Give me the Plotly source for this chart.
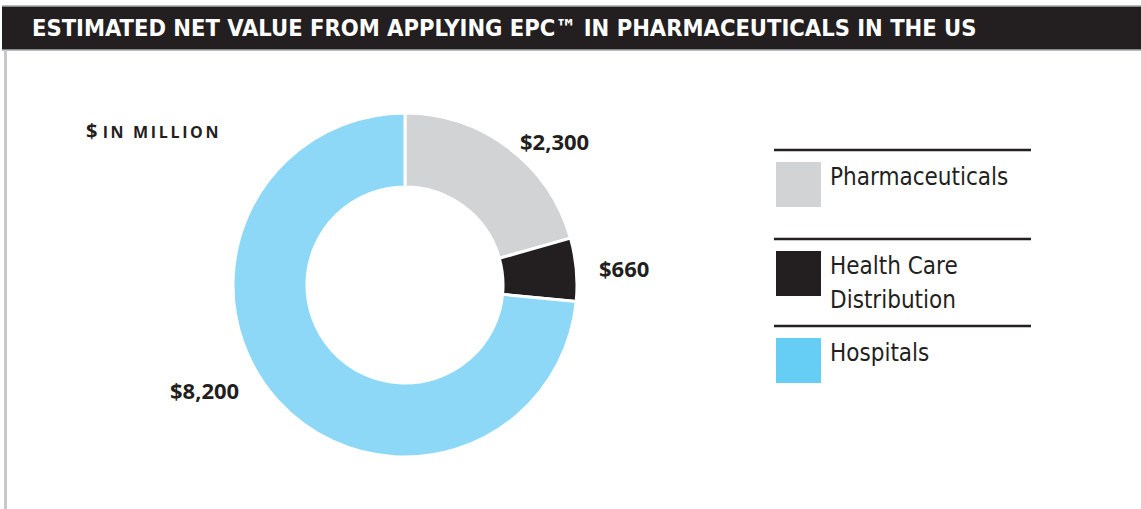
import plotly.graph_objects as go

categories = ["Pharmaceuticals", "Health Care Distribution", "Hospitals"]
values = [2300, 660, 8200]
value_labels = ["$2,300", "$660", "$8,200"]
legend_lines = [["Pharmaceuticals"], ["Health Care", "Distribution"], ["Hospitals"]]
pie_colors = ["#d1d3d4", "#231f20", "#8dd7f7"]
legend_colors = ["#d1d3d4", "#231f20", "#66cef5"]
title = "ESTIMATED NET VALUE FROM APPLYING EPC\u2122 IN PHARMACEUTICALS IN THE US"
unit_small = "IN MILLION"

W, H = 1141, 509
NARROW = "DejaVu Sans Condensed, Liberation Sans Narrow, Arial Narrow, sans-serif"
BOLD = "Open Sans, Lato, DejaVu Sans, sans-serif"

def px(x):
    return x / W

def py(y):
    return 1 - y / H

fig = go.Figure()
cx, cy, r = 405, 285, 172
fig.add_trace(go.Pie(
    labels=categories, values=values, hole=0.57, sort=False,
    direction="clockwise", rotation=0, textinfo="none", hoverinfo="label+value",
    marker=dict(colors=pie_colors, line=dict(color="white", width=3)),
    domain=dict(x=[px(cx - r), px(cx + r)], y=[py(cy + r), py(cy - r)]),
    showlegend=False,
))

shapes = []
annotations = []
# title bar
shapes.append(dict(type="rect", xref="paper", yref="paper", x0=px(2), x1=1.0,
                   y0=py(50), y1=py(6), fillcolor="#231f20", line=dict(width=0), layer="below"))
shapes.append(dict(type="line", xref="paper", yref="paper", x0=px(2), x1=1.0,
                   y0=py(6), y1=py(6), line=dict(color="#a7a9ac", width=1.5)))
shapes.append(dict(type="line", xref="paper", yref="paper", x0=px(2), x1=1.0,
                   y0=py(50), y1=py(50), line=dict(color="#a7a9ac", width=1.5)))
# left border
shapes.append(dict(type="line", xref="paper", yref="paper", x0=px(5.5), x1=px(5.5),
                   y0=py(50), y1=py(509), line=dict(color="#c7c8ca", width=3)))
annotations.append(dict(text="<b>" + title + "</b>", x=px(30), y=py(28), xref="paper", yref="paper",
                        xanchor="left", yanchor="middle", showarrow=False,
                        font=dict(family=NARROW, size=23.5, color="white")))
spaced = "\u2009".join(unit_small)
annotations.append(dict(text="<b>$ <span style='font-size:16px'>" + spaced + "</span></b>",
                        x=px(84), y=py(130), xref="paper", yref="paper",
                        xanchor="left", yanchor="middle", showarrow=False,
                        font=dict(family=BOLD, size=20, color="#231f20")))

# value labels
label_pos = [(518, 141, "left"), (597, 268, "left"), (241, 390, "right")]
for (x, y, anc), t in zip(label_pos, value_labels):
    annotations.append(dict(text="<b>" + t + "</b>", x=px(x), y=py(y), xref="paper", yref="paper",
                            xanchor=anc, yanchor="middle", showarrow=False,
                            font=dict(family=BOLD, size=22, color="#231f20")))

# custom legend
rule_y = [150, 239, 326]
sq_top = [162, 251, 338]
for i in range(3):
    shapes.append(dict(type="line", xref="paper", yref="paper", x0=px(774), x1=px(1031),
                       y0=py(rule_y[i]), y1=py(rule_y[i]), line=dict(color="#231f20", width=2.5)))
    shapes.append(dict(type="rect", xref="paper", yref="paper", x0=px(776), x1=px(821),
                       y0=py(sq_top[i] + 45), y1=py(sq_top[i]), fillcolor=legend_colors[i],
                       line=dict(width=0)))
    for j, line in enumerate(legend_lines[i]):
        annotations.append(dict(text=line, x=px(828), y=py(sq_top[i] + 15 + j * 34),
                                xref="paper", yref="paper", xanchor="left", yanchor="middle",
                                showarrow=False,
                                font=dict(family=NARROW, size=24, color="#231f20")))

fig.update_layout(width=W, height=H, margin=dict(l=0, r=0, t=0, b=0),
                  paper_bgcolor="white", plot_bgcolor="white",
                  shapes=shapes, annotations=annotations)

fig.write_html("out.html", config={"displayModeBar": False},
               post_script="document.body.style.margin='0';document.body.style.overflow='hidden';")
